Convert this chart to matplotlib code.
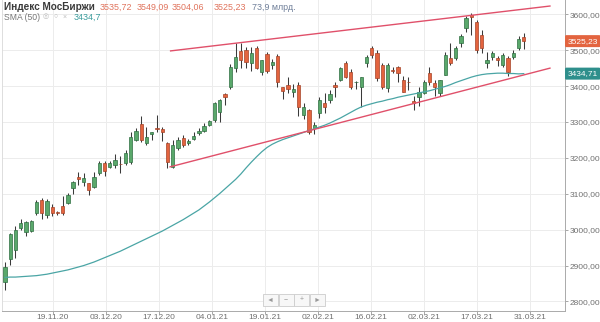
import numpy as np
import matplotlib
matplotlib.use('Agg')
import matplotlib.pyplot as plt
import matplotlib.transforms as mtransforms
from matplotlib.patches import Rectangle

plt.rcParams['font.family'] = ['Liberation Sans', 'DejaVu Sans']

# daily candles
opens = [2853, 2917, 2944, 3006, 2994, 2997, 3047, 3083, 3042, 3064,
         3048, 3067, 3075, 3117, 3147, 3133, 3131, 3119, 3158, 3186,
         3175, 3181, 3184, 3186, 3189, 3250, 3294, 3242, 3267, 3282,
         3281, 3242, 3175, 3228, 3256, 3242, 3253, 3269, 3275, 3292,
         3306, 3328, 3378, 3397, 3450, 3497, 3500, 3464, 3506, 3439,
         3489, 3458, 3483, 3397, 3403, 3383, 3403, 3319, 3333, 3283,
         3325, 3353, 3361, 3403, 3417, 3464, 3439, 3410, 3397, 3464,
         3506, 3492, 3458, 3394, 3445, 3453, 3417, 3412, 3358, 3369,
         3381, 3436, 3408, 3381, 3431, 3478, 3478, 3519, 3561, 3597,
         3578, 3542, 3464, 3481, 3478, 3458, 3478, 3481, 3506, 3535.72]
highs = [2911, 2992, 3011, 3031, 3025, 3028, 3083, 3089, 3086, 3072,
         3053, 3094, 3103, 3136, 3161, 3158, 3131, 3161, 3192, 3192,
         3192, 3211, 3206, 3222, 3272, 3283, 3317, 3286, 3272, 3319,
         3286, 3244, 3250, 3258, 3264, 3253, 3272, 3283, 3297, 3306,
         3355, 3364, 3381, 3461, 3519, 3519, 3508, 3508, 3511, 3472,
         3494, 3475, 3489, 3397, 3425, 3406, 3411, 3353, 3336, 3300,
         3369, 3381, 3389, 3411, 3453, 3469, 3447, 3414, 3425, 3486,
         3511, 3500, 3464, 3464, 3453, 3456, 3428, 3425, 3372, 3397,
         3417, 3453, 3417, 3417, 3494, 3519, 3511, 3544, 3594, 3603,
         3583, 3556, 3494, 3497, 3483, 3492, 3483, 3500, 3539, 3549.09]
lows = [2833, 2903, 2922, 3000, 2983, 2994, 3042, 3031, 3033, 3039,
        3042, 3042, 3072, 3100, 3125, 3122, 3097, 3117, 3153, 3150,
        3172, 3172, 3158, 3181, 3183, 3247, 3244, 3236, 3250, 3272,
        3247, 3172, 3172, 3222, 3231, 3236, 3250, 3264, 3272, 3289,
        3300, 3300, 3347, 3392, 3439, 3450, 3450, 3442, 3447, 3431,
        3436, 3447, 3397, 3364, 3381, 3369, 3317, 3308, 3267, 3267,
        3311, 3325, 3353, 3369, 3414, 3422, 3392, 3392, 3342, 3453,
        3478, 3414, 3392, 3383, 3436, 3411, 3383, 3389, 3333, 3344,
        3378, 3403, 3372, 3372, 3431, 3458, 3472, 3508, 3550, 3542,
        3492, 3492, 3450, 3472, 3456, 3453, 3428, 3475, 3500, 3504.06]
closes = [2897, 2989, 3000, 3019, 3022, 3025, 3078, 3047, 3081, 3047,
          3046, 3047, 3097, 3133, 3142, 3144, 3111, 3147, 3186, 3164,
          3186, 3194, 3182, 3214, 3258, 3275, 3250, 3258, 3272, 3280,
          3272, 3189, 3236, 3250, 3236, 3247, 3261, 3275, 3289, 3303,
          3353, 3361, 3369, 3453, 3481, 3472, 3467, 3492, 3450, 3472,
          3442, 3467, 3411, 3386, 3392, 3392, 3342, 3342, 3272, 3292,
          3361, 3342, 3378, 3397, 3450, 3425, 3397, 3412, 3425, 3481,
          3486, 3422, 3397, 3458, 3443, 3436, 3383, 3410, 3353, 3383,
          3411, 3411, 3397, 3417, 3486, 3464, 3506, 3539, 3589, 3592,
          3500, 3506, 3472, 3492, 3472, 3486, 3439, 3492, 3531, 3525.23]
sma50 = [2867, 2868, 2868, 2869, 2870, 2871, 2872, 2874, 2876, 2879,
         2882, 2885, 2888, 2892, 2896, 2900, 2905, 2910, 2916, 2922,
         2928, 2934, 2940, 2947, 2954, 2961, 2968, 2975, 2982, 2989,
         2996, 3004, 3012, 3020, 3028, 3037, 3046, 3055, 3066, 3077,
         3089, 3101, 3114, 3127, 3140, 3155, 3172, 3188, 3203, 3217,
         3229, 3238, 3245, 3251, 3256, 3261, 3266, 3271, 3276, 3281,
         3286, 3291, 3297, 3304, 3311, 3319, 3327, 3335, 3342, 3347,
         3351, 3355, 3358, 3362, 3365, 3369, 3372, 3375, 3378, 3381,
         3384, 3387, 3391, 3395, 3399, 3404, 3410, 3415, 3420, 3425,
         3429, 3432, 3434, 3435, 3436, 3436, 3435, 3435, 3434, 3434.71]

date_labels = ['19.11.20', '03.12.20', '17.12.20', '04.01.21', '19.01.21',
               '02.02.21', '16.02.21', '02.03.21', '17.03.21', '31.03.21']
price_ticks = [2800, 2900, 3000, 3100, 3200, 3300, 3400, 3500, 3600]

# channel lines (candle index, price)
upper_x, upper_y = [31.6, 104.0], [3498, 3623]
lower_x, lower_y = [31.5, 104.0], [3175, 3450]

header_values = ['3535,72', '3549,09', '3504,06', '3525,23']
volume_text = '73,9 млрд.'
sma_text = '3434,7'


def ru(v):
    return f'{v:.2f}'.replace('.', ',')


W, H = 600, 322
GREEN, GREEN_EDGE = '#5aa86b', '#2f6e42'
RED, RED_EDGE = '#e3643f', '#a44328'
LINE_RED = '#e0506a'
TEAL = '#4aa5a5'

fig = plt.figure(figsize=(W / 100, H / 100), dpi=100)
ax = fig.add_axes([2 / W, 1 - 311 / H, 563 / W, 311 / H])

x = np.arange(len(opens))
o = np.array(opens)
c = np.array(closes)
up = c >= o
body_low = np.minimum(o, c)
body_h = np.maximum(np.abs(c - o), 1.5)

ax.vlines(x, lows, highs, color='#3a3a3a', lw=0.75, zorder=2)
ax.bar(x[up], body_h[up], bottom=body_low[up], width=0.62,
       color=GREEN, edgecolor=GREEN_EDGE, lw=0.5, zorder=3)
ax.bar(x[~up], body_h[~up], bottom=body_low[~up], width=0.62,
       color=RED, edgecolor=RED_EDGE, lw=0.5, zorder=3)

ax.plot(x, sma50, color=TEAL, lw=0.9, zorder=4)
ax.plot(upper_x, upper_y, color=LINE_RED, lw=1.0, zorder=5)
ax.plot(lower_x, lower_y, color=LINE_RED, lw=1.0, zorder=5)

ax.set_xlim(-0.573, 106.87)
ax.set_ylim(2773.5, 3639.8)

tick_pos = 9.16 + 10.11 * np.arange(len(date_labels))
ax.set_xticks(tick_pos)
ax.set_xticklabels(date_labels)
ax.set_yticks(price_ticks)
ax.set_yticklabels([ru(v) for v in price_ticks])
ax.yaxis.tick_right()
ax.tick_params(axis='both', labelsize=6, colors='#999999', labelcolor='#707070',
               length=2.5, width=0.6, pad=1)
ax.tick_params(axis='x', length=2, pad=0.5)
ax.grid(True, color='#ececec', lw=0.7, zorder=0)
ax.set_axisbelow(True)

ax.spines['top'].set_visible(False)
ax.spines['left'].set_color('#dddddd')
ax.spines['right'].set_color('#aaaaaa')
ax.spines['bottom'].set_color('#aaaaaa')
for s in ['left', 'right', 'bottom']:
    ax.spines[s].set_linewidth(0.7)

# price tags on the right axis
trans = mtransforms.blended_transform_factory(ax.transAxes, ax.transData)
for val, col in [(closes[-1], RED), (sma50[-1], '#2e8f8c')]:
    ax.text(1.0045, val, ru(val), transform=trans, fontsize=6,
            color='white', va='center', ha='left', zorder=10, clip_on=False,
            bbox=dict(boxstyle='round,pad=0.3,rounding_size=0.15', fc=col, ec='none'))

# header
fig.text(4 / W, 1 - 7 / H, 'Индекс МосБиржи', fontsize=7.2, weight='bold',
         color='#3a3a3a', va='center')
for xp, t in zip([100, 137, 172, 214], header_values):
    fig.text(xp / W, 1 - 7 / H, t, fontsize=6.4, color='#e0735c', va='center')
fig.text(252 / W, 1 - 7 / H, volume_text, fontsize=6.4, color='#6f7f99', va='center')
fig.text(4 / W, 1 - 17 / H, 'SMA (50)', fontsize=6.2, color='#777777', va='center')
for xp, g in zip([46, 56, 65], ['◎', '○', '×']):
    fig.text(xp / W, 1 - 17 / H, g, fontsize=5, color='#bbbbbb',
             va='center', ha='center')
fig.text(74 / W, 1 - 17 / H, sma_text, fontsize=6.4, color='#3a9c9c', va='center')

# navigation buttons
for i, g in enumerate(['◄', '−', '+', '►']):
    bx = 263 + i * 15.5
    fig.patches.append(Rectangle((bx / W, 1 - 306 / H), 15 / W, 12 / H,
                                 transform=fig.transFigure, fc='#f7f7f7',
                                 ec='#cccccc', lw=0.6))
    fig.text((bx + 7.5) / W, 1 - 300 / H, g, fontsize=5, color='#999999',
             ha='center', va='center')

fig.savefig('out.png', dpi=100)
